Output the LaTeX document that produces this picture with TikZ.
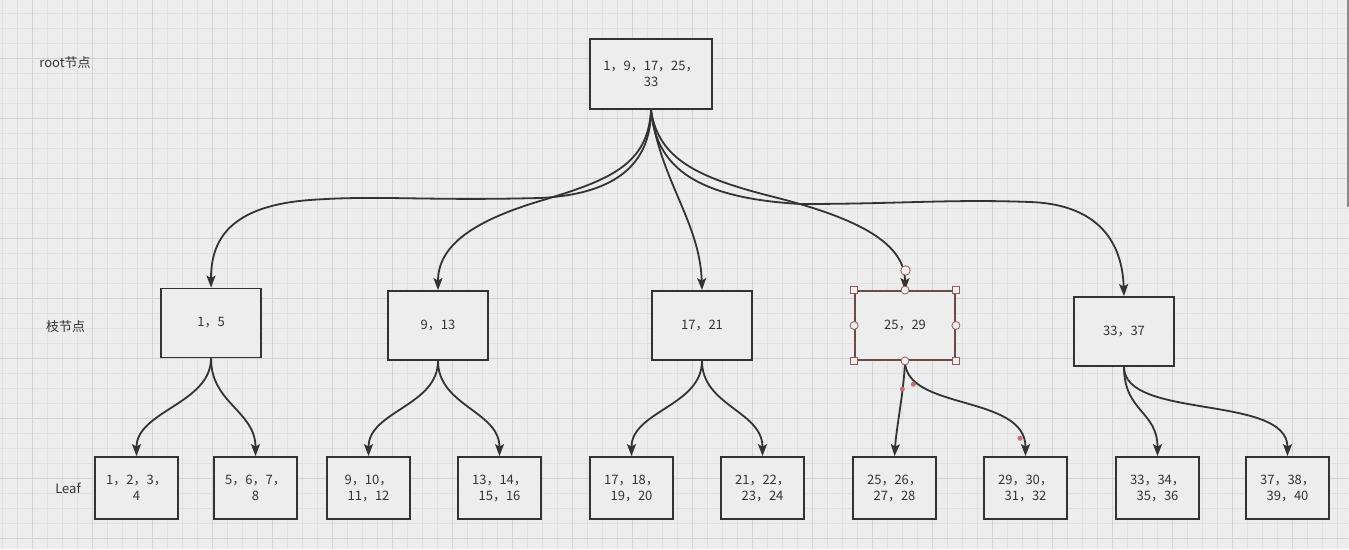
\documentclass[tikz,border=0pt]{standalone}
\usepackage{fontspec}
\setmainfont{Noto Sans CJK SC}
\usetikzlibrary{arrows.meta}
\definecolor{bg}{HTML}{EDEDED}
\definecolor{gminor}{HTML}{E0E0E0}
\definecolor{gmajor}{HTML}{D3D3D3}
\definecolor{ink}{HTML}{333333}
\definecolor{sel}{HTML}{8E5A5A}
\definecolor{selfill}{HTML}{F4EEEE}
\definecolor{seldot}{HTML}{C87070}
\definecolor{scrollbar}{HTML}{8A8A8A}
\begin{document}
\begin{tikzpicture}[x=1pt,y=-1pt,
  font=\fontsize{13}{16}\selectfont,
  box/.style={draw=ink, line width=1.8pt, fill=bg, text=ink, align=center, inner sep=0pt},
  rootbox/.style={box, minimum width=122pt, minimum height=70pt},
  midbox/.style={box, minimum width=100pt, minimum height=69pt},
  leafbox/.style={box, minimum width=83pt, minimum height=62pt},
  edge/.style={draw=ink, line width=1.8pt, -{Stealth[length=12pt,width=9pt,inset=2.5pt]}},
  rowlabel/.style={text=ink, inner sep=0pt},
  handlesq/.style={draw=sel, fill=selfill, line width=0.8pt, minimum size=7pt, inner sep=0pt},
  handlecirc/.style={draw=sel, fill=selfill, line width=0.8pt, circle, minimum size=8pt, inner sep=0pt},
  handledot/.style={fill=seldot, circle, minimum size=5pt, inner sep=0pt}]
\useasboundingbox (0,0) rectangle (1349,549);
\fill[bg] (0,0) rectangle (1349,549);
\begin{scope}
\clip (0,0) rectangle (1349,549);
\foreach \i in {0,...,89} \draw[gminor, line width=0.7pt] ({2.7+15*\i},0) -- ({2.7+15*\i},549);
\foreach \i in {0,...,36} \draw[gminor, line width=0.7pt] (0,{13.3+15*\i}) -- (1349,{13.3+15*\i});
\foreach \i in {0,...,22} \draw[gmajor, line width=0.9pt] ({32.7+60*\i},0) -- ({32.7+60*\i},549);
\foreach \i in {0,...,8} \draw[gmajor, line width=0.9pt] (0,{58.3+60*\i}) -- (1349,{58.3+60*\i});
\end{scope}
\draw[scrollbar, line width=2pt] (1348,0) -- (1348,207);

% row labels
\node[rowlabel] (lroot) at (65,63) {root节点};
\node[rowlabel] (lmid) at (65.5,327) {枝节点};
\node[rowlabel] (lleaf) at (68,488) {Leaf};

% nodes
\node[rootbox] (root) at (651,74) {1，9，17，25，\\33};
\node[midbox] (A) at (211,323) {1，5};
\node[midbox] (B) at (438,325.5) {9，13};
\node[midbox] (C) at (702,325.5) {17，21};
\node[midbox, draw=sel!60!ink] (D) at (905,325.5) {25，29};
\node[midbox] (E) at (1124,331.5) {33，37};

\node[leafbox] (L1) at (136.5,488) {1，2，3，\\4};
\node[leafbox] (L2) at (255.5,488) {5，6，7，\\8};
\node[leafbox] (L3) at (368.5,488) {9，10，\\11，12};
\node[leafbox] (L4) at (499.5,488) {13，14，\\15，16};
\node[leafbox] (L5) at (631.5,488) {17，18，\\19，20};
\node[leafbox] (L6) at (762.5,488) {21，22，\\23，24};
\node[leafbox] (L7) at (894.5,488) {25，26，\\27，28};
\node[leafbox] (L8) at (1025.5,488) {29，30，\\31，32};
\node[leafbox] (L9) at (1157.5,488) {33，34，\\35，36};
\node[leafbox] (L10) at (1287.5,488) {37，38，\\39，40};

% root edges
\draw[edge] (root.south) .. controls +(0,65) and (600,195) .. (540,198)
  .. controls (420,201) and (380,195) .. (310,200)
  .. controls (230,206) and +(0,-48) .. (A.north);
\draw[edge] (root.south) .. controls +(-3,55) and (610,180) .. (540,201)
  .. controls (470,222) and +(0,-43) .. (B.north);
\draw[edge] (root.south) .. controls +(9,70) and +(-2,-68) .. (C.north);
\draw[edge] (root.south) .. controls +(7,50) and (700,178) .. (770,196)
  .. controls (850,216) and +(0,-50) .. (D.north);
\draw[edge] (root.south) .. controls +(5,60) and (700,198) .. (800,204)
  .. controls (900,204) and (950,199) .. (1030,202)
  .. controls (1090,204) and +(-2,-62) .. (E.north);

% mid edges
\draw[edge] (A.south) .. controls +(0,45) and +(0,-45) .. (L1.north);
\draw[edge] (A.south) .. controls +(0,45) and +(0,-45) .. (L2.north);
\draw[edge] (B.south) .. controls +(0,45) and +(0,-45) .. (L3.north);
\draw[edge] (B.south) .. controls +(0,45) and +(0,-45) .. (L4.north);
\draw[edge] (C.south) .. controls +(0,45) and +(0,-45) .. (L5.north);
\draw[edge] (C.south) .. controls +(0,45) and +(0,-45) .. (L6.north);
\draw[edge] (D.south) .. controls +(-1,30) and +(2,-30) .. (L7.north);
\draw[edge] (D.south) .. controls +(0,50) and +(0,-62) .. (L8.north);
\draw[edge] (E.south) .. controls +(0,45) and +(0,-45) .. (L9.north);
\draw[edge] (E.south) .. controls +(0,53) and +(0,-62) .. (L10.north);

% selection handles on 25,29
\node[handlesq] (s1) at (D.north west) {};
\node[handlesq] (s2) at (D.north east) {};
\node[handlesq] (s3) at (D.south west) {};
\node[handlesq] (s4) at (D.south east) {};
\node[handlecirc] (c1) at (D.north) {};
\node[handlecirc] (c2) at (D.south) {};
\node[handlecirc] (c3) at (D.west) {};
\node[handlecirc] (c4) at (D.east) {};
\node[handlecirc, minimum size=9.5pt] (c5) at (905.5,270.5) {};
\node[handledot] (d1) at (902.3,389) {};
\node[handledot] (d2) at (913.3,384.3) {};
\node[handledot] (d3) at (1020,438.3) {};
\end{tikzpicture}
\end{document}
